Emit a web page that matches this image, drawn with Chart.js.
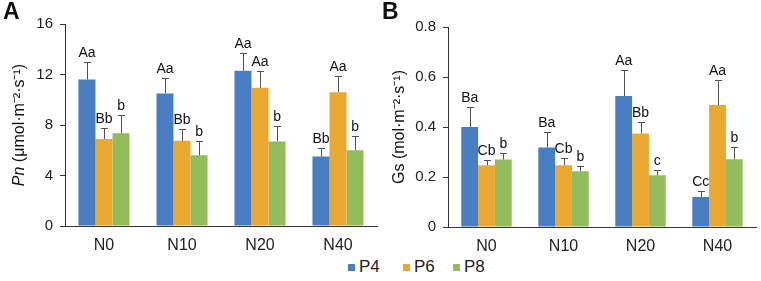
<!DOCTYPE html>
<html>
<head>
<meta charset="utf-8">
<script src="https://cdn.jsdelivr.net/npm/chart.js@4/dist/chart.umd.min.js"></script>
<style>
  html,body{margin:0;padding:0;background:#fff;}
  #wrap{position:relative;width:761px;height:281px;overflow:hidden;background:#fff;font-family:"Liberation Sans",Arial,sans-serif;}
  .cv{position:absolute;top:0;}
  .panel{position:absolute;top:-2px;font-weight:bold;font-size:23px;color:#111;}
  .leg{position:absolute;top:257px;font-size:17px;color:#222;display:flex;align-items:center;}
  .leg i{display:inline-block;width:7px;height:7px;margin-right:4px;}
</style>
</head>
<body>
<div id="wrap">
  <div class="cv" style="left:0;width:380px;height:255px;"><canvas id="cA"></canvas></div>
  <div class="cv" style="left:380px;width:381px;height:255px;"><canvas id="cB"></canvas></div>
  <div class="panel" style="left:3px;">A</div>
  <div class="panel" style="left:382px;">B</div>
  <div class="leg" style="left:348px;"><i style="background:#4A7EC2"></i>P4</div>
  <div class="leg" style="left:403px;"><i style="background:#E9A830"></i>P6</div>
  <div class="leg" style="left:453px;"><i style="background:#92BB5B"></i>P8</div>
</div>
<script>
const categories = ['N0', 'N10', 'N20', 'N40'];
const seriesNames = ['P4', 'P6', 'P8'];

// Panel A: Pn
const pnP4 = [11.6, 10.5, 12.3, 5.5];
const pnP6 = [6.9, 6.75, 10.95, 10.6];
const pnP8 = [7.35, 5.6, 6.7, 6.0];
const pnErrP4 = [1.4, 1.2, 1.4, 0.7];
const pnErrP6 = [0.9, 0.9, 1.35, 1.3];
const pnErrP8 = [1.45, 1.1, 1.25, 1.15];
const pnLetP4 = ['Aa', 'Aa', 'Aa', 'Bb'];
const pnLetP6 = ['Bb', 'Bb', 'Aa', 'Aa'];
const pnLetP8 = ['b', 'b', 'b', 'b'];
const pnTicks = [0, 4, 8, 12, 16];

// Panel B: Gs
const gsP4 = [0.40, 0.318, 0.524, 0.12];
const gsP6 = [0.247, 0.247, 0.374, 0.488];
const gsP8 = [0.27, 0.223, 0.207, 0.271];
const gsErrP4 = [0.08, 0.062, 0.106, 0.025];
const gsErrP6 = [0.023, 0.031, 0.046, 0.10];
const gsErrP8 = [0.028, 0.021, 0.023, 0.049];
const gsLetP4 = ['Ba', 'Ba', 'Aa', 'Cc'];
const gsLetP6 = ['Cb', 'Cb', 'Bb', 'Aa'];
const gsLetP8 = ['b', 'b', 'c', 'b'];
const gsTicks = [0, 0.2, 0.4, 0.6, 0.8];

const colors = ['#4A7EC2', '#E9A830', '#92BB5B'];
const FONT = '"Liberation Sans", Arial, sans-serif';

const errPlugin = {
  id: 'errLetters',
  afterDatasetsDraw(chart, args, opts) {
    const ctx = chart.ctx;
    const ys = chart.scales.y;
    ctx.save();
    chart.data.datasets.forEach((ds, di) => {
      const meta = chart.getDatasetMeta(di);
      meta.data.forEach((bar, i) => {
        const v = ds.data[i];
        const e = opts.errs[di][i];
        const yTop = ys.getPixelForValue(v + e);
        const x = Math.round(bar.x) + 0.5;
        ctx.strokeStyle = '#505050';
        ctx.lineWidth = 1;
        ctx.beginPath();
        ctx.moveTo(x, bar.y);
        ctx.lineTo(x, Math.round(yTop) + 0.5);
        ctx.moveTo(x - 3.5, Math.round(yTop) + 0.5);
        ctx.lineTo(x + 3.5, Math.round(yTop) + 0.5);
        ctx.stroke();
        ctx.fillStyle = '#111';
        ctx.font = '14px ' + FONT;
        ctx.textAlign = 'center';
        ctx.textBaseline = 'alphabetic';
        ctx.fillText(opts.letters[di][i], bar.x, yTop - 5);
      });
    });
    ctx.restore();
  },
  afterDraw(chart, args, opts) {
    const ctx = chart.ctx;
    const a = chart.chartArea;
    ctx.save();
    ctx.translate(opts.titleX, (a.top + a.bottom) / 2);
    ctx.rotate(-Math.PI / 2);
    ctx.fillStyle = '#111';
    ctx.textBaseline = 'middle';
    ctx.textAlign = 'left';
    const parts = opts.title;
    let total = 0;
    parts.forEach(p => { ctx.font = (p.italic ? 'italic ' : '') + '16px ' + FONT; p.w = ctx.measureText(p.t).width; total += p.w; });
    let x = -total / 2;
    parts.forEach(p => { ctx.font = (p.italic ? 'italic ' : '') + '16px ' + FONT; ctx.fillText(p.t, x, 0); x += p.w; });
    ctx.restore();
  }
};

function makeChart(id, series, errs, letters, ticks, yMax, step, padTop, padRight, yWidth, xHeight, title) {
  return new Chart(document.getElementById(id), {
    type: 'bar',
    data: {
      labels: categories,
      datasets: series.map((d, i) => ({
        label: seriesNames[i],
        data: d,
        backgroundColor: colors[i],
        borderWidth: 0,
        categoryPercentage: 0.655,
        barPercentage: 1.0
      }))
    },
    options: {
      responsive: true,
      maintainAspectRatio: false,
      animation: false,
      layout: { padding: { top: padTop, right: padRight, left: 0, bottom: 0 } },
      plugins: {
        legend: { display: false },
        tooltip: { enabled: false },
        errLetters: { errs: errs, letters: letters, titleX: 20, title: title }
      },
      scales: {
        x: {
          grid: { display: false, drawTicks: false },
          border: { display: true, color: '#333', width: 1 },
          ticks: { color: '#222', font: { size: 16, family: FONT }, padding: 10 },
          afterFit: s => { s.height = xHeight; }
        },
        y: {
          min: 0, max: yMax,
          afterBuildTicks: s => { s.ticks = ticks.map(v => ({ value: v })); },
          grid: { drawOnChartArea: false, drawTicks: true, tickLength: 5, color: '#333' },
          border: { display: true, color: '#333', width: 1 },
          ticks: { color: '#222', font: { size: 15, family: FONT }, padding: 7, stepSize: step,
                   callback: v => String(v) },
          afterFit: s => { s.width = yWidth; }
        }
      }
    },
    plugins: [errPlugin]
  });
}

makeChart('cA', [pnP4, pnP6, pnP8], [pnErrP4, pnErrP6, pnErrP8], [pnLetP4, pnLetP6, pnLetP8],
  pnTicks, 16, 4, 24, 3, 65, 29,
  [{ t: 'Pn', italic: true }, { t: ' (\u03BCmol\u00B7m\u207B\u00B2\u00B7s\u207B\u00B9)', italic: false }]);

makeChart('cB', [gsP4, gsP6, gsP8], [gsErrP4, gsErrP6, gsErrP8], [gsLetP4, gsLetP6, gsLetP8],
  gsTicks, 0.8, 0.2, 27, 5, 68, 28,
  [{ t: 'Gs', italic: false }, { t: ' (mol\u00B7m\u207B\u00B2\u00B7s\u207B\u00B9)', italic: false }]);
</script>
</body>
</html>
